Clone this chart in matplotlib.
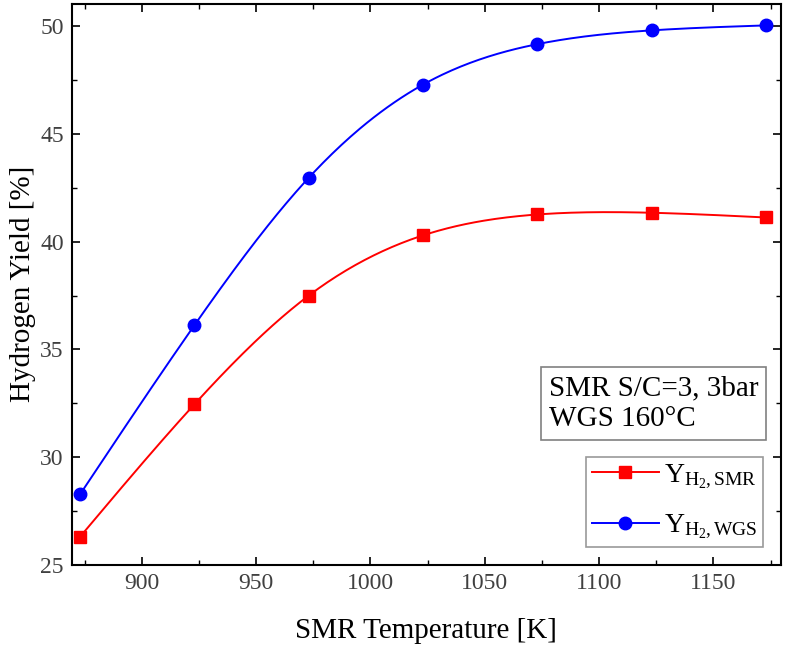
import matplotlib
matplotlib.use("Agg")
import matplotlib.pyplot as plt
import numpy as np

# values
temp_k = [873, 923, 973, 1023, 1073, 1123, 1173]
y_smr = [26.3, 32.45, 37.5, 40.3, 41.27, 41.35, 41.13]
y_wgs = [28.27, 36.12, 42.97, 47.3, 49.18, 49.82, 50.05]

RED, BLUE = "#ff0000", "#0000ff"

plt.rcParams["font.family"] = ["Liberation Serif", "DejaVu Serif"]
plt.rcParams["mathtext.fontset"] = "custom"
plt.rcParams["mathtext.rm"] = "Liberation Serif"
plt.rcParams["mathtext.it"] = "Liberation Serif:italic"


def smooth(x, y, n=300):
    # natural cubic spline, only used to draw the connecting line
    x = np.asarray(x, float)
    y = np.asarray(y, float)
    k = len(x)
    h = np.diff(x)
    A = np.zeros((k, k))
    r = np.zeros(k)
    A[0, 0] = A[-1, -1] = 1
    for i in range(1, k - 1):
        A[i, i - 1] = h[i - 1]
        A[i, i] = 2 * (h[i - 1] + h[i])
        A[i, i + 1] = h[i]
        r[i] = 6 * ((y[i + 1] - y[i]) / h[i] - (y[i] - y[i - 1]) / h[i - 1])
    m = np.linalg.solve(A, r)
    xs = np.linspace(x[0], x[-1], n)
    j = np.clip(np.searchsorted(x, xs) - 1, 0, k - 2)
    t = xs - x[j]
    hj = h[j]
    a = (m[j + 1] - m[j]) / (6 * hj)
    b = m[j] / 2
    c = (y[j + 1] - y[j]) / hj - hj * (2 * m[j] + m[j + 1]) / 6
    return xs, y[j] + c * t + b * t ** 2 + a * t ** 3


fig = plt.figure(figsize=(8, 6.47), dpi=100)
ax = fig.add_axes([0.09, 0.127, 0.886, 0.867])

for ys, col, mk, lab in [(y_smr, RED, "s", r"Y$_{\mathrm{H_2,SMR}}$"),
                         (y_wgs, BLUE, "o", r"Y$_{\mathrm{H_2,WGS}}$")]:
    xs, yl = smooth(temp_k, ys)
    ax.plot(xs, yl, color=col, lw=1.4)
    ax.plot(temp_k, ys, mk, color=col, ms=9, ls="none")
    ax.plot([], [], color=col, lw=1.4, marker=mk, ms=9, label=lab)

ax.set_xlim(869.5, 1179.5)
ax.set_ylim(25, 51.05)
ax.set_xticks(range(900, 1151, 50))
ax.set_xticks(range(875, 1180, 25), minor=True)
ax.set_yticks(range(25, 51, 5))
ax.set_yticks(np.arange(25, 51, 2.5), minor=True)
ax.tick_params(which="both", direction="in", top=True, right=True,
               labeltop=False, labelright=False)
ax.tick_params(which="major", length=6, width=1.2, labelsize=17, pad=6,
               labelcolor="#404040")
ax.tick_params(which="minor", length=3.5, width=1)
for s in ax.spines.values():
    s.set_linewidth(1.5)

ax.set_xlabel("SMR Temperature [K]", fontsize=21, labelpad=17)
ax.set_ylabel("Hydrogen Yield [%]", fontsize=21, labelpad=3)

ax.text(0.968, 0.287, "SMR S/C=3, 3bar\nWGS 160°C", transform=ax.transAxes,
        fontsize=21, va="center", ha="right", multialignment="left",
        linespacing=1.25,
        bbox=dict(boxstyle="square,pad=0.27", fc="white", ec="#808080", lw=1.2))

leg = ax.legend(loc="lower right", bbox_to_anchor=(0.975, 0.032), fontsize=20,
                frameon=True, fancybox=False, edgecolor="#808080",
                handlelength=2.4, borderpad=0.2, labelspacing=0.8,
                handletextpad=0.2, borderaxespad=0)
leg.get_frame().set_linewidth(1.2)

fig.savefig("out.png", dpi=100)
